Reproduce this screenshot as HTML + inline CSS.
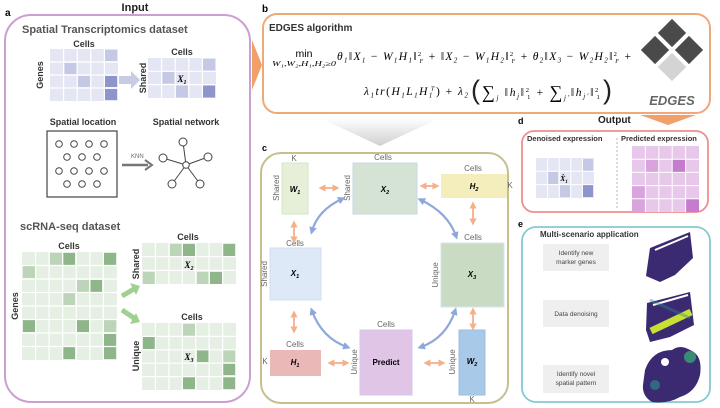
<!DOCTYPE html>
<html><head><meta charset="utf-8"><style>
body{margin:0;background:#fff}
svg{display:block}
text{font-family:"Liberation Sans",sans-serif}
.m{font-family:"Liberation Serif",serif;font-style:italic}
.lb{font-size:8px;fill:#666}
.hd{font-size:9px;font-weight:bold;fill:#333}
</style></head><body>
<svg width="720" height="408" viewBox="0 0 720 408" xmlns="http://www.w3.org/2000/svg">
<defs>
<linearGradient id="gd" x1="0" y1="0" x2="0" y2="1"><stop offset="0" stop-color="#fff"/><stop offset="1" stop-color="#d0d0d0"/></linearGradient>
<marker id="ob" viewBox="0 0 10 10" refX="5" refY="5" markerWidth="4" markerHeight="4" orient="auto-start-reverse"><path d="M0,0 L10,5 L0,10 z" fill="#f4b08a"/></marker>
<marker id="bb" viewBox="0 0 10 10" refX="5" refY="5" markerWidth="3.5" markerHeight="3.5" orient="auto-start-reverse"><path d="M0,0 L10,5 L0,10 z" fill="#8fa8dc"/></marker>
</defs>

<!-- Panel a -->
<text x="5" y="16" font-size="10" font-weight="bold">a</text>
<text x="135" y="11" font-size="11" font-weight="bold" text-anchor="middle" fill="#222">Input</text>
<rect x="5" y="15" width="245" height="387" rx="26" fill="none" stroke="#cc9fd0" stroke-width="2"/>
<text x="22" y="33" font-size="11" font-weight="bold" fill="#555">Spatial Transcriptomics dataset</text>
<text x="84" y="47" class="hd" text-anchor="middle" font-size="7">Cells</text>
<text transform="translate(43,75) rotate(-90)" class="hd" text-anchor="middle" font-size="7">Genes</text>
<rect x="50" y="49" width="68" height="52" fill="#e4e6f3"/>
<rect x="105" y="50" width="12" height="11" fill="#c5c9e5"/>
<rect x="64.5" y="63" width="12" height="11" fill="#c5c9e5"/>
<rect x="78" y="76" width="12" height="11" fill="#c5c9e5"/>
<rect x="105" y="76" width="12" height="11" fill="#8e95cc"/>
<rect x="105" y="89" width="12" height="11" fill="#8e95cc"/>
<path d="M63.6,49V101M77.2,49V101M90.8,49V101M104.4,49V101M50,62H118M50,75H118M50,88H118" stroke="#fff" stroke-width="1.2"/>
<path d="M119,76 h12 v-5 l9,9 l-9,9 v-5 h-12z" fill="#c8cbe3"/>
<text x="182" y="55" class="hd" text-anchor="middle" font-size="7">Cells</text>
<text transform="translate(146,78) rotate(-90)" class="hd" text-anchor="middle" font-size="7">Shared</text>
<rect x="148" y="58" width="68" height="40" fill="#e4e6f3"/>
<rect x="203" y="59" width="12" height="11.5" fill="#c5c9e5"/>
<rect x="162.5" y="72" width="12" height="11.5" fill="#c5c9e5"/>
<rect x="176" y="85.5" width="12" height="12" fill="#c5c9e5"/>
<rect x="203" y="85.5" width="12" height="12" fill="#8e95cc"/>
<path d="M161.6,58V98M175.2,58V98M188.8,58V98M202.4,58V98M148,71.3H216M148,84.6H216" stroke="#fff" stroke-width="1.2"/>
<text x="182" y="82" class="m" font-size="9" font-weight="bold" text-anchor="middle">X<tspan font-size="6" dy="2">1</tspan></text>

<text x="83" y="125" class="hd" text-anchor="middle" font-size="8">Spatial location</text>
<text x="186" y="125" class="hd" text-anchor="middle" font-size="8">Spatial network</text>
<rect x="47" y="131" width="70" height="66" fill="none" stroke="#444" stroke-width="1.2"/>
<g fill="#fff" stroke="#444" stroke-width="1">
<circle cx="59" cy="144" r="3.3"/><circle cx="74" cy="144" r="3.3"/><circle cx="89" cy="144" r="3.3"/><circle cx="104" cy="144" r="3.3"/>
<circle cx="67" cy="157" r="3.3"/><circle cx="82" cy="157" r="3.3"/><circle cx="97" cy="157" r="3.3"/>
<circle cx="59" cy="171" r="3.3"/><circle cx="74" cy="171" r="3.3"/><circle cx="89" cy="171" r="3.3"/><circle cx="104" cy="171" r="3.3"/>
<circle cx="67" cy="184" r="3.3"/><circle cx="82" cy="184" r="3.3"/><circle cx="97" cy="184" r="3.3"/>
</g>
<text x="131" y="158" font-size="6" fill="#666">KNN</text>
<path d="M122,165 H148" stroke="#777" stroke-width="2.5"/><path d="M145,160 L152,165 L145,170" fill="none" stroke="#777" stroke-width="2"/>
<g stroke="#444" stroke-width="1"><path d="M186,165 L183,142 M186,165 L163,158 M186,165 L208,157 M186,165 L172,184 M186,165 L200,184"/></g>
<g fill="#fff" stroke="#444" stroke-width="1">
<circle cx="186" cy="165" r="3.3"/><circle cx="183" cy="142" r="4"/><circle cx="163" cy="158" r="4"/><circle cx="208" cy="157" r="4"/><circle cx="172" cy="184" r="4"/><circle cx="200" cy="184" r="4"/>
</g>

<text x="20" y="230" font-size="11" font-weight="bold" fill="#555">scRNA-seq dataset</text>
<text x="69" y="249" class="hd" text-anchor="middle" font-size="7">Cells</text>
<text transform="translate(18,306) rotate(-90)" class="hd" text-anchor="middle" font-size="7">Genes</text>
<rect x="22" y="252" width="95" height="108" fill="#e6efe3"/>
<g fill="#8fb68a">
<rect x="63" y="253" width="12" height="12"/><rect x="104" y="253" width="12" height="12"/>
<rect x="90" y="280" width="12" height="12"/><rect x="23" y="320" width="12" height="12"/>
<rect x="77" y="320" width="12" height="12"/><rect x="104" y="334" width="12" height="12"/>
<rect x="63" y="347" width="12" height="12"/><rect x="104" y="347" width="12" height="12"/>
</g>
<g fill="#bcd5b8">
<rect x="50" y="253" width="12" height="12"/><rect x="23" y="266" width="12" height="12"/>
<rect x="77" y="280" width="12" height="12"/><rect x="63" y="293" width="12" height="12"/>
<rect x="104" y="320" width="12" height="12"/>
</g>
<path d="M35.6,252V360M49.1,252V360M62.7,252V360M76.3,252V360M89.9,252V360M103.4,252V360M22,265.5H117M22,279H117M22,292.5H117M22,306H117M22,319.5H117M22,333H117M22,346.5H117" stroke="#fff" stroke-width="1.2"/>
<path d="M122,296 L134,289" stroke="#9fd08f" stroke-width="5"/><path d="M130,283 L140,286 L136,295z" fill="#9fd08f"/>
<path d="M122,310 L134,318" stroke="#9fd08f" stroke-width="5"/><path d="M130,324 L140,322 L136,313z" fill="#9fd08f"/>

<text x="188" y="240" class="hd" text-anchor="middle" font-size="7">Cells</text>
<text transform="translate(139,264) rotate(-90)" class="hd" text-anchor="middle" font-size="7">Shared</text>
<rect x="142" y="243" width="94" height="41" fill="#e6efe3"/>
<g fill="#8fb68a"><rect x="183" y="244" width="12" height="12"/><rect x="223" y="244" width="12" height="12"/><rect x="210" y="272" width="12" height="12"/></g>
<g fill="#bcd5b8"><rect x="170" y="244" width="12" height="12"/><rect x="143" y="272" width="12" height="12"/><rect x="197" y="272" width="12" height="12"/></g>
<path d="M155.4,243V284M168.9,243V284M182.3,243V284M195.7,243V284M209.1,243V284M222.6,243V284M142,256.7H236M142,270.3H236" stroke="#fff" stroke-width="1.2"/>
<text x="189" y="268" class="m" font-size="9" font-weight="bold" text-anchor="middle">X<tspan font-size="6" dy="2">2</tspan></text>

<text x="192" y="320" class="hd" text-anchor="middle" font-size="7">Cells</text>
<text transform="translate(139,356) rotate(-90)" class="hd" text-anchor="middle" font-size="7">Unique</text>
<rect x="142" y="323" width="94" height="67" fill="#e6efe3"/>
<g fill="#8fb68a"><rect x="143" y="337" width="12" height="12"/><rect x="197" y="350" width="12" height="12"/><rect x="223" y="363" width="12" height="12"/><rect x="183" y="377" width="12" height="12"/><rect x="223" y="377" width="12" height="12"/></g>
<g fill="#bcd5b8"><rect x="183" y="324" width="12" height="12"/><rect x="223" y="350" width="12" height="12"/></g>
<path d="M155.4,323V390M168.9,323V390M182.3,323V390M195.7,323V390M209.1,323V390M222.6,323V390M142,336.4H236M142,349.8H236M142,363.2H236M142,376.6H236" stroke="#fff" stroke-width="1.2"/>
<text x="189" y="360" class="m" font-size="9" font-weight="bold" text-anchor="middle">X<tspan font-size="6" dy="2">3</tspan></text>

<path d="M252,40 L262,65 L252,90z" fill="#f0a068"/>

<!-- Panel b -->
<text x="262" y="12" font-size="10" font-weight="bold">b</text>
<rect x="263" y="14" width="447" height="99" rx="14" fill="none" stroke="#f0a878" stroke-width="2"/>
<text x="269" y="31" font-size="10" font-weight="bold" fill="#333">EDGES algorithm</text>
<text x="304" y="57" font-family="Liberation Serif,serif" font-size="10.5" text-anchor="middle">min</text>
<text x="272" y="66" class="m" font-size="7" textLength="64" lengthAdjust="spacingAndGlyphs">W₁,W₂,H₁,H₂≥0</text>
<text x="337" y="60" class="m" font-size="11.5" textLength="294" lengthAdjust="spacing">θ<tspan font-size="7" dy="2.5">1</tspan><tspan dy="-2.5">‖X</tspan><tspan font-size="7" dy="2.5">1</tspan><tspan dy="-2.5" font-style="normal"> − </tspan><tspan>W</tspan><tspan font-size="7" dy="2.5">1</tspan><tspan dy="-2.5">H</tspan><tspan font-size="7" dy="2.5">1</tspan><tspan dy="-2.5">‖</tspan><tspan font-size="6.5" font-style="normal" dy="-4">2</tspan><tspan font-size="6" dy="7" dx="-3">F</tspan><tspan dy="-3" font-style="normal"> + </tspan><tspan>‖X</tspan><tspan font-size="7" dy="2.5">2</tspan><tspan dy="-2.5" font-style="normal"> − </tspan><tspan>W</tspan><tspan font-size="7" dy="2.5">1</tspan><tspan dy="-2.5">H</tspan><tspan font-size="7" dy="2.5">2</tspan><tspan dy="-2.5">‖</tspan><tspan font-size="6.5" font-style="normal" dy="-4">2</tspan><tspan font-size="6" dy="7" dx="-3">F</tspan><tspan dy="-3" font-style="normal"> + </tspan><tspan>θ</tspan><tspan font-size="7" dy="2.5">2</tspan><tspan dy="-2.5">‖X</tspan><tspan font-size="7" dy="2.5">3</tspan><tspan dy="-2.5" font-style="normal"> − </tspan><tspan>W</tspan><tspan font-size="7" dy="2.5">2</tspan><tspan dy="-2.5">H</tspan><tspan font-size="7" dy="2.5">2</tspan><tspan dy="-2.5">‖</tspan><tspan font-size="6.5" font-style="normal" dy="-4">2</tspan><tspan font-size="6" dy="7" dx="-3">F</tspan><tspan dy="-3" font-style="normal"> +</tspan></text>
<text x="364" y="95" class="m" font-size="11.5" textLength="104" lengthAdjust="spacing">λ<tspan font-size="7" dy="2.5">1</tspan><tspan dy="-2.5">tr</tspan><tspan font-style="normal">(</tspan><tspan>H</tspan><tspan font-size="7" dy="2.5">1</tspan><tspan dy="-2.5">L</tspan><tspan font-size="7" dy="2.5">1</tspan><tspan dy="-2.5">H</tspan><tspan font-size="7" dy="2.5">1</tspan><tspan font-size="6.5" dy="-7" dx="-3">T</tspan><tspan dy="4.5" font-style="normal">)  + </tspan><tspan>λ</tspan><tspan font-size="7" dy="2.5">2</tspan></text>
<text x="471" y="99" font-family="Liberation Serif,serif" font-size="27" fill="#222">(</text>
<text x="482" y="96" class="m" font-size="11.5" textLength="118" lengthAdjust="spacing"><tspan font-size="18" font-style="normal" dy="2">∑</tspan><tspan font-size="7" dy="2">j</tspan><tspan dy="-4"> ‖h</tspan><tspan font-size="7" dy="2.5">j</tspan><tspan dy="-2.5">‖</tspan><tspan font-size="6.5" font-style="normal" dy="-4">2</tspan><tspan font-size="6.5" font-style="normal" dy="7" dx="-3.5">1</tspan><tspan dy="-3" font-style="normal"> + </tspan><tspan font-size="18" font-style="normal" dy="2">∑</tspan><tspan font-size="7" dy="2">j′</tspan><tspan dy="-4">‖h</tspan><tspan font-size="7" dy="2.5">j′</tspan><tspan dy="-2.5">‖</tspan><tspan font-size="6.5" font-style="normal" dy="-4">2</tspan><tspan font-size="6.5" font-style="normal" dy="7" dx="-3.5">1</tspan></text>
<text x="603" y="99" font-family="Liberation Serif,serif" font-size="27" fill="#222">)</text>
<g transform="translate(672,50) rotate(45)">
<rect x="-22" y="-22" width="20" height="20" fill="#4a4a4a"/><rect x="2" y="-22" width="20" height="20" fill="#4a4a4a"/>
<rect x="-22" y="2" width="20" height="20" fill="#4a4a4a"/><rect x="2" y="2" width="20" height="20" fill="#d4d4d4"/>
</g>
<text x="672" y="105" font-size="13" font-weight="bold" font-style="italic" fill="#666" text-anchor="middle">EDGES</text>

<path d="M320,118 H440 L380,146z" fill="url(#gd)"/>

<!-- Panel c -->
<text x="262" y="151" font-size="9" font-weight="bold">c</text>
<rect x="261" y="153" width="247" height="250" rx="20" fill="none" stroke="#c7c08e" stroke-width="2"/>
<rect x="282" y="163" width="26" height="51" fill="#e6f0d9" stroke="#d4e6c4"/>
<rect x="353" y="163" width="64" height="51" fill="#d5e3d5" stroke="#c6d8e6"/>
<rect x="441" y="174" width="66" height="24" fill="#f3eebc"/>
<rect x="270" y="248" width="51" height="52" fill="#dde9f6" stroke="#cfe0f2"/>
<rect x="441" y="243" width="63" height="64" fill="#c9dcc3" stroke="#d4e4f2"/>
<rect x="270" y="350" width="51" height="26" fill="#ebb8b8"/>
<rect x="360" y="330" width="52" height="65" fill="#e1c5e7" stroke="#d4c6ec"/>
<rect x="459" y="330" width="26" height="65" fill="#a9c9e9" stroke="#9cbde0"/>
<g class="m" font-size="8" font-weight="bold" text-anchor="middle">
<text x="295" y="192">W<tspan font-size="5.5" dy="2">1</tspan></text>
<text x="385" y="192">X<tspan font-size="5.5" dy="2">2</tspan></text>
<text x="474" y="189">H<tspan font-size="5.5" dy="2">2</tspan></text>
<text x="295" y="276">X<tspan font-size="5.5" dy="2">1</tspan></text>
<text x="472" y="277">X<tspan font-size="5.5" dy="2">3</tspan></text>
<text x="295" y="365">H<tspan font-size="5.5" dy="2">1</tspan></text>
<text x="472" y="364">W<tspan font-size="5.5" dy="2">2</tspan></text>
</g>
<text x="386" y="365" font-family="Liberation Serif,serif" font-size="8" font-weight="bold" text-anchor="middle">Predict</text>
<g class="lb" text-anchor="middle" font-size="6.5">
<text x="294" y="161">K</text><text x="383" y="160">Cells</text><text x="473" y="171">Cells</text><text x="510" y="188">K</text>
<text x="295" y="246">Cells</text><text x="473" y="240">Cells</text><text x="295" y="347">Cells</text><text x="265" y="364">K</text>
<text x="386" y="327">Cells</text><text x="472" y="402">K</text>
<text transform="translate(279,188) rotate(-90)">Shared</text>
<text transform="translate(350,188) rotate(-90)">Shared</text>
<text transform="translate(267,274) rotate(-90)">Shared</text>
<text transform="translate(438,275) rotate(-90)">Unique</text>
<text transform="translate(357,362) rotate(-90)">Unique</text>
<text transform="translate(455,362) rotate(-90)">Unique</text>
</g>
<g stroke="#f4b08a" stroke-width="1.8" marker-start="url(#ob)" marker-end="url(#ob)">
<path d="M322,188 H336"/><path d="M423,186 H436"/><path d="M473,205 V222"/><path d="M294,224 V240"/>
<path d="M294,314 V330"/><path d="M331,363 H346"/><path d="M427,363 H442"/><path d="M473,311 V327"/>
</g>
<g stroke="#8fa8dc" stroke-width="2.2" fill="none" marker-start="url(#bb)" marker-end="url(#bb)">
<path d="M342,199 Q318,210 312,231"/><path d="M421,200 Q448,213 456,236"/>
<path d="M312,311 Q322,338 347,347"/><path d="M455,311 Q446,338 421,347"/>
</g>

<!-- Panel d -->
<text x="518" y="124" font-size="9" font-weight="bold">d</text>
<text x="598" y="123" font-size="10" font-weight="bold" fill="#222">Output</text>
<path d="M640,115 H696 L668,125z" fill="#f0a068"/>
<rect x="522" y="131" width="186" height="81" rx="12" fill="none" stroke="#ee8f8f" stroke-width="1.8"/>
<text x="527" y="141" font-size="7.5" font-weight="bold" fill="#333">Denoised expression</text>
<text x="621" y="141" font-size="7.5" font-weight="bold" fill="#333">Predicted expression</text>
<path d="M617,138 V210" stroke="#999" stroke-width="0.7" stroke-dasharray="2,2"/>
<rect x="536" y="158" width="58" height="40" fill="#e4e6f3"/>
<rect x="583" y="159" width="10" height="12" fill="#c5c9e5"/>
<rect x="548" y="172" width="10" height="12" fill="#c5c9e5"/>
<rect x="560" y="185" width="10" height="12" fill="#c5c9e5"/>
<rect x="583" y="185" width="10" height="12" fill="#8e95cc"/>
<path d="M547.6,158V198M559.2,158V198M570.8,158V198M582.4,158V198M536,171.3H594M536,184.6H594" stroke="#fff" stroke-width="1"/>
<text x="564" y="181" class="m" font-size="7.5" font-weight="bold" text-anchor="middle">X̂<tspan font-size="5" dy="2">1</tspan></text>
<rect x="632" y="146" width="67" height="66" fill="#e8c8ea"/>
<rect x="645.4" y="159.2" width="13.4" height="13.2" fill="#d9a4de"/>
<rect x="672.2" y="159.2" width="13.4" height="13.2" fill="#c57ccf"/>
<rect x="632" y="185.6" width="13.4" height="13.2" fill="#d9a4de"/>
<rect x="632" y="198.8" width="13.4" height="13.2" fill="#d9a4de"/>
<rect x="685.6" y="198.8" width="13.4" height="13.2" fill="#c57ccf"/>
<path d="M645.4,146V212M658.8,146V212M672.2,146V212M685.6,146V212M632,159.2H699M632,172.4H699M632,185.6H699M632,198.8H699" stroke="#fff" stroke-width="1"/>

<!-- Panel e -->
<text x="518" y="227" font-size="9" font-weight="bold">e</text>
<rect x="522" y="227" width="188" height="175" rx="14" fill="none" stroke="#86c9d2" stroke-width="1.8"/>
<text x="540" y="237" font-size="8" font-weight="bold" fill="#333">Multi-scenario application</text>
<rect x="543" y="244" width="66" height="27" fill="#efefef"/>
<rect x="543" y="300" width="66" height="27" fill="#efefef"/>
<rect x="543" y="365" width="66" height="28" fill="#efefef"/>
<g font-size="6.5" fill="#444" text-anchor="middle">
<text x="576" y="255">Identify new</text><text x="576" y="264">marker genes</text>
<text x="576" y="316">Data denoising</text>
<text x="576" y="376">Identify novel</text><text x="576" y="385">spatial pattern</text>
</g>
<path d="M650,248 L690,232 L693,258 L675,275 L660,282 L646,276z" fill="#3b2a72"/>
<path d="M655,250 L688,236" stroke="#fff" stroke-width="2"/>
<path d="M647,303 L690,292 L694,325 L670,337 L650,342 L646,330z" fill="#3b2a72"/>
<path d="M651,331 L691,312" stroke="#c8e034" stroke-width="7"/>
<path d="M653,305 L688,295" stroke="#fff" stroke-width="2"/>
<path d="M650,300 L690,318" stroke="#2a8a8c" stroke-width="3" opacity="0.4"/>
<path d="M645,370 Q652,350 672,350 Q680,344 690,350 Q703,355 700,375 Q696,392 680,397 Q668,404 652,402 Q642,396 643,385z" fill="#3b2a72"/>
<circle cx="690" cy="357" r="6" fill="#3a8a78"/>
<circle cx="665" cy="362" r="4" fill="#fff"/>
<circle cx="655" cy="385" r="5" fill="#2f6a80"/>
</svg>
</body></html>
